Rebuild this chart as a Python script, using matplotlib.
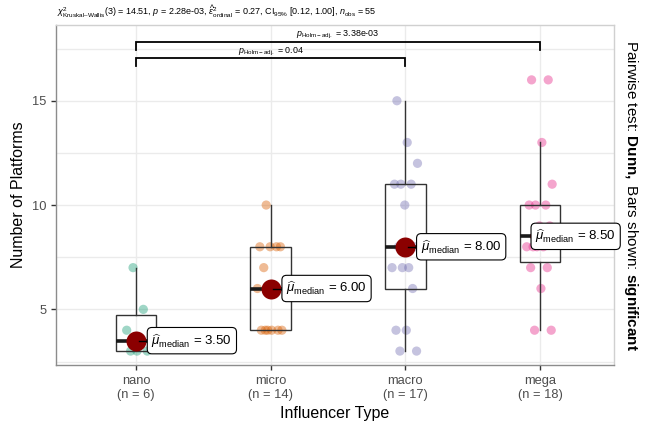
import numpy as np
import matplotlib
matplotlib.use('Agg')
import matplotlib.pyplot as plt

# Data
GROUPS = ['nano', 'micro', 'macro', 'mega']
NANO = [3, 3, 3, 4, 5, 7]
MICRO = [4, 4, 4, 4, 4, 4, 6, 6, 7, 8, 8, 8, 8, 10]
MACRO = [3, 3, 4, 4, 6, 7, 7, 7, 8, 8, 10, 11, 11, 11, 12, 13, 15]
MEGA = [4, 4, 6, 7, 7, 8, 8, 8, 8, 9, 9, 10, 10, 10, 11, 13, 16, 16]
SUBTITLE = (r'$\chi^2_{\mathrm{Kruskal–Wallis}}$(3) = 14.51, $p$ = 2.28e-03, '
            r'$\widehat{\epsilon}^2_{\mathrm{ordinal}}$ = 0.27, CI$_{95\%}$ [0.12, 1.00], '
            r'$n_{\mathrm{obs}}$ = 55')
PAIRS = [(0, 3), (0, 2)]
PAIR_LABELS = ['3.38e-03', '0.04']
PAIR_Y = [17.81, 17.03]

# Style
COLOURS = ['#1B9E77', '#D95F02', '#7570B3', '#E7298A']
MEDIAN_COLOUR = '#8B0000'
GRID_COLOUR = '#EBEBEB'
FRAME_COLOUR = '#8C8C8C'
LABEL_OFFSETS = [0.115, 0.115, 0.115, -0.035]

plt.rcParams['font.family'] = ['Liberation Sans', 'DejaVu Sans']
plt.rcParams['mathtext.fontset'] = 'custom'
plt.rcParams['mathtext.rm'] = 'Liberation Sans'
plt.rcParams['mathtext.it'] = 'Liberation Sans:italic'
plt.rcParams['mathtext.bf'] = 'Liberation Sans:bold'

data = [NANO, MICRO, MACRO, MEGA]
positions = np.arange(1, len(GROUPS) + 1)

fig = plt.figure(figsize=(6.56, 4.24), dpi=100)
ax = fig.add_axes([0.0854, 0.139, 0.8506, 0.802])

# Grid
for y in [2.5, 5, 7.5, 10, 12.5, 15, 17.5]:
    ax.axhline(y, color=GRID_COLOUR, lw=1.0, zorder=0)
for x in positions:
    ax.axvline(x, color=GRID_COLOUR, lw=1.0, zorder=0)

# Jittered points (deterministic jitter)
for pos, values, colour in zip(positions, data, COLOURS):
    k = np.arange(len(values))
    jitter = ((k * 0.618034 + 0.3) % 1 - 0.5) * 0.2
    ax.scatter(pos + jitter, values, s=44, color=colour, alpha=0.42,
               edgecolors='none', zorder=2)

# Boxplots
ax.boxplot(data, positions=positions, widths=0.3, whis=1.5,
           showcaps=False, showfliers=False, patch_artist=True,
           boxprops=dict(facecolor='none', edgecolor='#333333', lw=1.0),
           whiskerprops=dict(color='#333333', lw=1.0),
           medianprops=dict(color='#1a1a1a', lw=2.6),
           zorder=3)

# Medians: dot, segment and label
for pos, values, off in zip(positions, data, LABEL_OFFSETS):
    med = np.median(values)
    ax.plot(pos, med, 'o', ms=14.4, color=MEDIAN_COLOUR, mec='none', zorder=4)
    if off > 0:
        ax.plot([pos + 0.02, pos + off], [med, med], color='black', lw=1.0, zorder=5)
    ax.text(pos + off, med, r'$\widehat{\mu}_{\mathrm{median}}$' + f' = {med:.2f}',
            ha='left', va='center', fontsize=9.5, zorder=6,
            bbox=dict(boxstyle='round,pad=0.32,rounding_size=0.35',
                      fc='white', ec='black', lw=0.8))

# Significance bars
for (a, b), lab, y in zip(PAIRS, PAIR_LABELS, PAIR_Y):
    xa, xb = positions[a], positions[b]
    ax.plot([xa, xa, xb, xb], [y - 0.36, y, y, y - 0.36], color='black', lw=1.3,
            zorder=3, solid_joinstyle='miter')
    ax.text((xa + xb) / 2, y + 0.03, r'$p_{\mathrm{Holm-adj.}}$' + f' = {lab}',
            ha='center', va='bottom', fontsize=6.4)

# Axes
ax.set_xlim(0.406, 4.55)
ax.set_ylim(2.33, 18.63)
ax.set_yticks([5, 10, 15])
ax.set_xticks(positions)
ax.set_xticklabels([f'{g}\n(n = {len(v)})' for g, v in zip(GROUPS, data)])
ax.tick_params(axis='both', colors='#333333', labelcolor='#4D4D4D',
               labelsize=9.3, length=3.5, width=1.0)
for side in ['left', 'right', 'top', 'bottom']:
    ax.spines[side].set_color(FRAME_COLOUR)
    ax.spines[side].set_linewidth(1.0)
ax.spines['right'].set_color('#D0D0D0')
ax.spines['top'].set_color('#D0D0D0')

ax.set_xlabel('Influencer Type', fontsize=11.5, labelpad=4)
ax.set_ylabel('Number of Platforms', fontsize=11.5, labelpad=4)

fig.text(0.087, 0.971, SUBTITLE, fontsize=6.5, ha='left', va='center')
fig.text(0.962, 0.54, r'Pairwise test: $\mathbf{Dunn,}$ Bars shown: $\mathbf{significant}$',
         rotation=270, fontsize=11, ha='center', va='center')

fig.savefig('out.png', dpi=100)
